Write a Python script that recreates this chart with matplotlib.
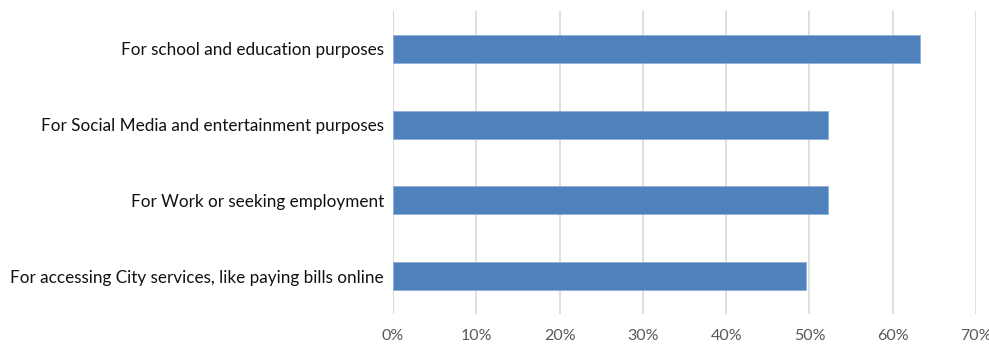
import matplotlib
matplotlib.use("Agg")
import matplotlib.pyplot as plt
from matplotlib.ticker import FuncFormatter, MultipleLocator

plt.rcParams['font.family'] = ['Lato', 'DejaVu Sans']

categories = [
    "For school and education purposes",
    "For Social Media and entertainment purposes",
    "For Work or seeking employment",
    "For accessing City services, like paying bills online",
]
values = [63.3, 52.2, 52.2, 49.6]

fig = plt.figure(figsize=(9.89, 3.44), dpi=100)
ax = fig.add_axes([0.3974, 0.0872, 0.5895, 0.8808])

ypos = list(range(len(categories)))
ax.barh(ypos, values, height=0.37, color="#4F81BD", edgecolor="#8FB0D8", linewidth=0.6, zorder=3)
ax.set_yticks(ypos)
ax.set_yticklabels(categories, fontsize=12.3, color="#111111")
ax.set_ylim(len(categories) - 0.5, -0.5)

ax.set_xlim(0, 70)
ax.xaxis.set_major_locator(MultipleLocator(10))
ax.xaxis.set_major_formatter(FuncFormatter(lambda v, p: f"{v:.0f}%"))
ax.tick_params(axis='x', labelsize=11.5, labelcolor="#595959", length=0, pad=11)
ax.tick_params(axis='y', length=0, pad=6.5)
ax.grid(axis='x', color="#d9d9d9", linewidth=1.2, zorder=0)

for s in ax.spines.values():
    s.set_visible(False)
ax.axvline(0, color="#d0d0d0", linewidth=1.2, zorder=1)

fig.savefig("out.png", dpi=100)
